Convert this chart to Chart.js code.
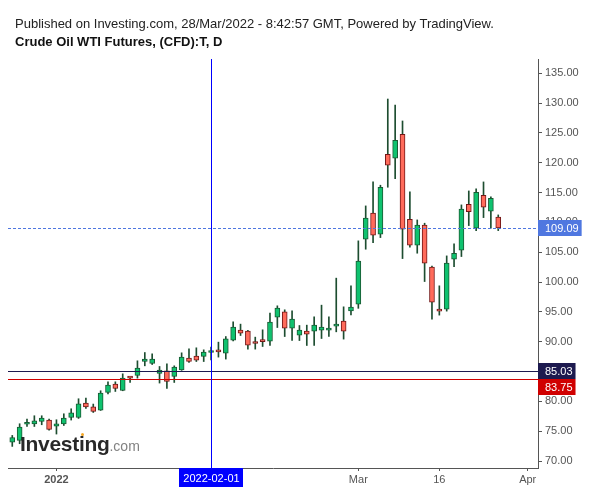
<!DOCTYPE html>
<html>
<head>
<meta charset="utf-8">
<script src="https://cdn.jsdelivr.net/npm/chart.js@4.4.1/dist/chart.umd.min.js"></script>
<style>
  html, body { margin: 0; padding: 0; background: #fff; }
  #wrap { position: relative; width: 589px; height: 492px; overflow: hidden; font-family: Arial, "Liberation Sans", sans-serif; }
  #chart { position: absolute; left: 0; top: 0; }
  .hdr { position: absolute; left: 15px; font-size: 13px; line-height: 15px; color: #222; white-space: nowrap; }
  #pub { top: 16px; }
  #ttl { top: 34px; font-weight: bold; color: #111; }
  #logo { position: absolute; left: 20px; top: 433px; font-size: 21px; line-height: 21px; font-weight: bold; color: #161616; letter-spacing: -0.3px; white-space: nowrap; opacity: 0.92; }
  #logo span { font-size: 14px; font-weight: normal; color: #777; letter-spacing: 0; }
  #dot { position: absolute; left: 81px; top: 433px; width: 3px; height: 3px; border-radius: 2px; background: #f5a623; }
</style>
</head>
<body>
<div id="wrap">
  <canvas id="chart" width="589" height="492"></canvas>
  <div class="hdr" id="pub">Published on Investing.com, 28/Mar/2022 - 8:42:57 GMT, Powered by TradingView.</div>
  <div class="hdr" id="ttl">Crude Oil WTI Futures, (CFD):T, D</div>
  <div id="logo">Investing<span>.com</span></div>
  <div id="dot"></div>
</div>
<script>
// trading days, Dec 24 2021 .. Mar 28 2022 (MM-DD)
const days = [
  '12-24','12-27','12-28','12-29','12-30','12-31',
  '01-03','01-04','01-05','01-06','01-07','01-10','01-11','01-12','01-13','01-14',
  '01-17','01-18','01-19','01-20','01-21','01-24','01-25','01-26','01-27','01-28','01-31',
  '02-01','02-02','02-03','02-04','02-07','02-08','02-09','02-10','02-11','02-14',
  '02-15','02-16','02-17','02-18','02-21','02-22','02-23','02-24','02-25','02-28',
  '03-01','03-02','03-03','03-04','03-07','03-08','03-09','03-10','03-11','03-14',
  '03-15','03-16','03-17','03-18','03-21','03-22','03-23','03-24','03-25','03-28'
];
// empty slots to the right of the last candle
const futureDays = ['03-29', '03-30', '03-31', '04-01'];

const openP = [
  73.18, 73.45, 76.16, 76.20, 76.63, 76.87, 75.86, 76.20, 77.30, 77.30,
  79.71, 79.10, 78.54, 81.49, 82.90, 81.83, 84.07, 84.34, 86.68, 86.35,
  84.67, 85.13, 84.17, 85.29, 87.25, 87.59, 87.55, 88.19, 88.43, 88.09,
  90.27, 91.94, 91.78, 89.93, 90.10, 90.10, 94.12, 95.01, 92.28, 91.11,
  91.78, 91.78, 91.94, 91.94, 92.62, 93.45, 95.18, 96.30, 107.19, 111.55,
  108.03, 121.43, 120.76, 124.78, 110.54, 106.19, 109.54, 102.50, 95.46, 95.46,
  103.84, 105.35, 113.05, 109.03, 114.56, 111.88, 110.88
];
const highP = [
  74.29, 76.25, 77.03, 77.59, 77.59, 77.03, 76.92, 77.92, 78.76, 80.44,
  80.55, 79.55, 81.78, 83.28, 83.28, 84.62, 84.10, 86.80, 88.19, 87.97,
  85.85, 86.30, 85.96, 88.14, 88.81, 88.98, 88.64, 89.10, 89.93, 90.87,
  93.34, 92.95, 91.90, 90.77, 92.00, 94.79, 96.02, 95.35, 95.18, 92.72,
  92.78, 94.17, 96.13, 94.17, 100.66, 95.85, 99.37, 106.91, 112.77, 116.79,
  116.24, 130.69, 129.69, 127.01, 115.11, 110.42, 109.87, 102.67, 99.37, 104.39,
  106.40, 112.94, 115.28, 115.62, 116.79, 114.28, 111.26
];
const lowP = [
  72.45, 72.90, 75.79, 75.79, 76.08, 75.19, 74.52, 75.96, 76.87, 77.14,
  78.81, 78.14, 78.48, 81.27, 81.66, 81.78, 83.17, 83.90, 85.96, 86.18,
  83.07, 82.16, 83.17, 85.20, 86.52, 86.68, 86.68, 86.97, 87.42, 87.09,
  90.15, 91.04, 88.76, 88.76, 89.20, 89.37, 92.38, 90.87, 90.20, 90.20,
  89.37, 89.37, 90.54, 90.91, 91.66, 90.44, 94.51, 95.60, 105.51, 106.62,
  107.46, 115.90, 117.34, 103.94, 105.85, 104.84, 100.09, 93.79, 94.46, 95.13,
  102.60, 104.28, 109.47, 108.63, 110.81, 109.03, 108.63
];
const closeP = [
  73.95, 75.69, 76.33, 76.75, 77.20, 75.29, 76.25, 77.20, 78.09, 79.60,
  79.05, 78.31, 81.39, 82.73, 82.16, 83.90, 83.90, 85.58, 87.09, 87.09,
  85.24, 83.33, 85.75, 87.42, 86.68, 86.92, 88.26, 88.43, 88.31, 90.49,
  92.45, 91.44, 89.43, 89.70, 90.03, 93.29, 95.63, 92.28, 93.79, 91.94,
  91.27, 92.78, 92.45, 92.28, 92.95, 91.78, 95.80, 103.50, 110.71, 107.86,
  115.90, 119.59, 123.78, 108.87, 106.19, 109.54, 103.17, 96.64, 95.13, 103.17,
  104.84, 112.22, 111.81, 115.06, 112.55, 114.06, 109.09
];

const yTicks = [70, 75, 80, 85, 90, 95, 100, 105, 110, 115, 120, 125, 130, 135];
const xTickDays = ['01-03', '02-01', '03-01', '03-16', '04-01'];
const xTickLabels = ['2022', '', 'Mar', '16', 'Apr'];

const lastPrice = 109.09;
const levelValues = [85.03, 83.75];
const levelColors = ['#1d1a4f', '#d00000'];
const crossDay = '02-01';
const crossLabel = '2022-02-01';

const UP = '#0fc26f', UP_EDGE = '#1a5a33';
const DOWN = '#ff6b5b', DOWN_EDGE = '#731717';
const WICK = '#1d4d30';
const AXIS = '#555555';
const LAST_BLUE = '#4f77e0';
const FONT = 'Arial, "Liberation Sans", sans-serif';

const allDays = days.concat(futureDays);
const dayIndex = d => allDays.indexOf(d);

const isUp = closeP.map((c, i) => c >= openP[i]);

const overlay = {
  id: 'overlay',
  afterDatasetsDraw(chart) {
    const { ctx, chartArea: a, scales: { x, y } } = chart;
    ctx.save();
    ctx.lineWidth = 1;

    // last price dotted line
    const yl = Math.round(y.getPixelForValue(lastPrice)) + 0.5;
    ctx.strokeStyle = LAST_BLUE;
    ctx.setLineDash([3, 2]);
    ctx.beginPath(); ctx.moveTo(a.left, yl); ctx.lineTo(a.right, yl); ctx.stroke();
    ctx.setLineDash([]);

    // horizontal levels
    levelValues.forEach((v, i) => {
      const yy = Math.round(y.getPixelForValue(v)) + 0.5;
      ctx.strokeStyle = levelColors[i];
      ctx.beginPath(); ctx.moveTo(a.left, yy); ctx.lineTo(a.right, yy); ctx.stroke();
    });

    // crosshair
    const xc = Math.round(x.getPixelForValue(dayIndex(crossDay))) + 0.5;
    ctx.strokeStyle = '#0000ff';
    ctx.beginPath(); ctx.moveTo(xc, a.top); ctx.lineTo(xc, a.bottom); ctx.stroke();
    ctx.restore();
  },
  afterDraw(chart) {
    const { ctx, chartArea: a, scales: { x, y } } = chart;
    ctx.save();
    ctx.font = '11px ' + FONT;
    ctx.textBaseline = 'middle';
    const boxH = 16;

    const priceBox = (v, bg, top) => {
      const txt = v.toFixed(2);
      const w = ctx.measureText(txt).width + 10;
      ctx.fillStyle = bg;
      ctx.fillRect(a.right, top, w, boxH);
      ctx.fillStyle = '#fff';
      ctx.textAlign = 'left';
      ctx.fillText(txt, a.right + 7, top + boxH / 2 + 0.5);
      return top + boxH;
    };

    priceBox(lastPrice, LAST_BLUE, Math.round(y.getPixelForValue(lastPrice)) - boxH / 2);
    let prevBottom = -Infinity;
    levelValues.forEach((v, i) => {
      let top = Math.round(y.getPixelForValue(v)) - boxH / 2;
      if (top < prevBottom) top = prevBottom;
      prevBottom = priceBox(v, levelColors[i], top);
    });

    // crosshair date box
    const xc = Math.round(x.getPixelForValue(dayIndex(crossDay))) + 0.5;
    const tw = ctx.measureText(crossLabel).width + 8;
    ctx.fillStyle = '#0000ff';
    ctx.fillRect(Math.round(xc - tw / 2), a.bottom, Math.round(tw), 19);
    ctx.fillStyle = '#fff';
    ctx.textAlign = 'center';
    ctx.fillText(crossLabel, xc, a.bottom + 10.5);
    ctx.restore();
  }
};

new Chart(document.getElementById('chart'), {
  type: 'bar',
  data: {
    datasets: [
      {
        label: 'body',
        order: 0,
        data: days.map((d, i) => ({ x: i, y: [openP[i], closeP[i]] })),
        backgroundColor: isUp.map(u => u ? UP : DOWN),
        borderColor: isUp.map(u => u ? UP_EDGE : DOWN_EDGE),
        borderWidth: 1,
        borderSkipped: false,
        barThickness: 5,
        minBarLength: 2,
        grouped: false
      },
      {
        label: 'wick',
        order: 1,
        data: days.map((d, i) => ({ x: i, y: [lowP[i], highP[i]] })),
        backgroundColor: WICK,
        borderWidth: 0,
        barThickness: 1,
        grouped: false
      }
    ]
  },
  options: {
    responsive: false,
    animation: false,
    layout: { padding: { left: 8, top: 59, right: 0, bottom: 0 } },
    plugins: { legend: { display: false }, tooltip: { enabled: false } },
    scales: {
      x: {
        type: 'linear',
        offset: false,
        min: -0.58,
        max: 71.4,
        afterBuildTicks: axis => { axis.ticks = xTickDays.map(d => ({ value: dayIndex(d) })); },
        afterFit: axis => { axis.height = 24; },
        grid: { offset: false, drawOnChartArea: false, drawTicks: true, tickLength: 3, color: AXIS },
        border: { display: true, color: AXIS },
        ticks: {
          autoSkip: false,
          maxRotation: 0,
          padding: 2,
          color: AXIS,
          font: ctx => ({ family: FONT, size: 11, weight: ctx.index === 0 ? 'bold' : 'normal' }),
          callback: (v, i) => xTickLabels[i]
        }
      },
      y: {
        position: 'right',
        min: 68.83,
        max: 137.4,
        afterBuildTicks: axis => { axis.ticks = yTicks.map(v => ({ value: v })); },
        afterFit: axis => { axis.width = 51; },
        grid: { drawOnChartArea: false, drawTicks: true, tickLength: 4, color: AXIS },
        border: { display: true, color: AXIS },
        ticks: {
          padding: 3,
          color: AXIS,
          font: { family: FONT, size: 11 },
          callback: v => v.toFixed(2)
        }
      }
    }
  },
  plugins: [overlay]
});
</script>
</body>
</html>
